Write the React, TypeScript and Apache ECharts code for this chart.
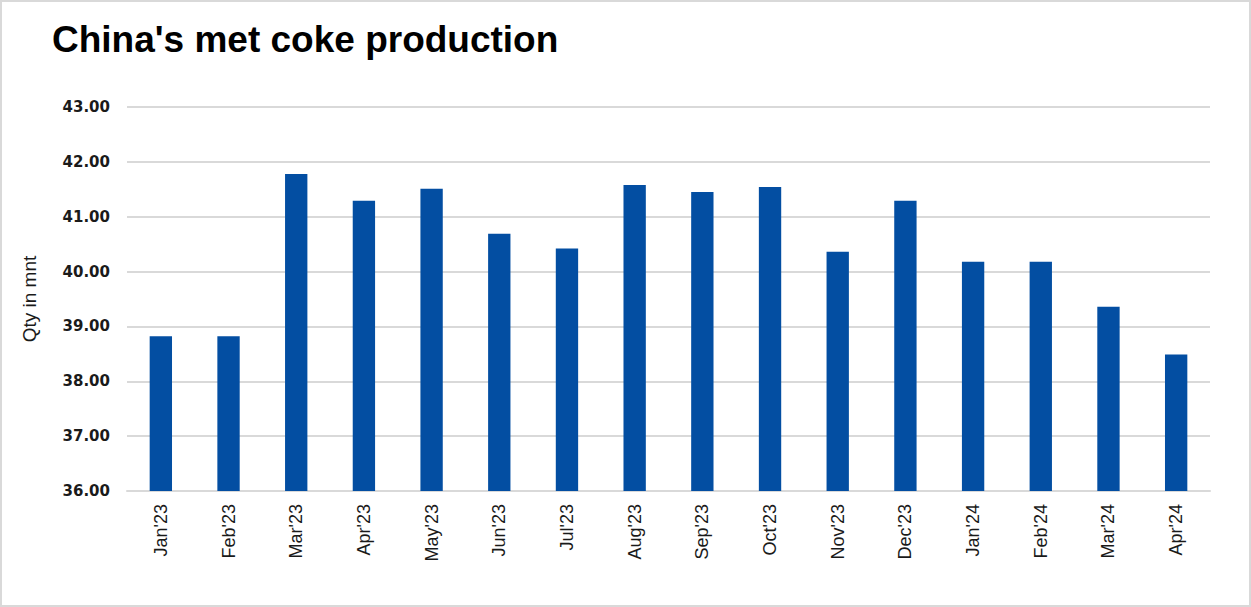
import React, { useEffect, useRef } from "react";
import * as echarts from "echarts";

const categories = ["Jan'23", "Feb'23", "Mar'23", "Apr'23", "May'23", "Jun'23", "Jul'23", "Aug'23", "Sep'23", "Oct'23", "Nov'23", "Dec'23", "Jan'24", "Feb'24", "Mar'24", "Apr'24"];
const production = [38.82, 38.82, 41.78, 41.29, 41.51, 40.69, 40.42, 41.58, 41.45, 41.54, 40.36, 41.29, 40.18, 40.18, 39.36, 38.49];
const titleText = "China's met coke production";
const yAxisName = "Qty in mnt";

export default function App() {
  const ref = useRef<HTMLDivElement>(null);
  useEffect(() => {
    if (!ref.current) return;
    const chart = echarts.init(ref.current, null, { renderer: "svg" });
    chart.setOption({
      animation: false,
      backgroundColor: "#ffffff",
      textStyle: { fontFamily: "Liberation Sans" },
      title: {
        text: titleText,
        left: 47,
        top: 16,
        textStyle: { fontSize: 37, fontWeight: "bold", color: "#000000", fontFamily: "Liberation Sans" },
      },
      graphic: [
        {
          type: "rect",
          shape: { x: 1, y: 1, width: 1249, height: 605 },
          style: { fill: "none", stroke: "#d9d9d9", lineWidth: 2 },
          silent: true,
        },
      ],
      grid: { left: 127, right: 41, top: 107, bottom: 116 },
      xAxis: {
        type: "category",
        data: categories,
        axisLine: { show: true, lineStyle: { color: "#d9d9d9", width: 2 } },
        axisTick: { show: false },
        axisLabel: { rotate: 90, color: "#1a1a1a", fontSize: 18, margin: 13, interval: 0 },
      },
      yAxis: {
        type: "value",
        min: 36,
        max: 43,
        interval: 1,
        name: yAxisName,
        nameLocation: "middle",
        nameGap: 88,
        nameTextStyle: { fontSize: 19, color: "#1a1a1a" },
        axisLine: { show: false },
        axisTick: { show: false },
        axisLabel: {
          formatter: (v: number) => v.toFixed(2),
          fontSize: 15,
          fontWeight: "bold",
          fontFamily: "DejaVu Sans",
          color: "#1a1a1a",
          margin: 17,
        },
        splitLine: { lineStyle: { color: "#d9d9d9", width: 2 } },
      },
      series: [
        {
          type: "bar",
          data: production,
          barWidth: "33%",
          itemStyle: { color: "#034EA2" },
        },
      ],
    });
    return () => chart.dispose();
  }, []);
  return <div ref={ref} style={{ position: "absolute", left: 0, top: 0, width: 1251, height: 607 }} />;
}
